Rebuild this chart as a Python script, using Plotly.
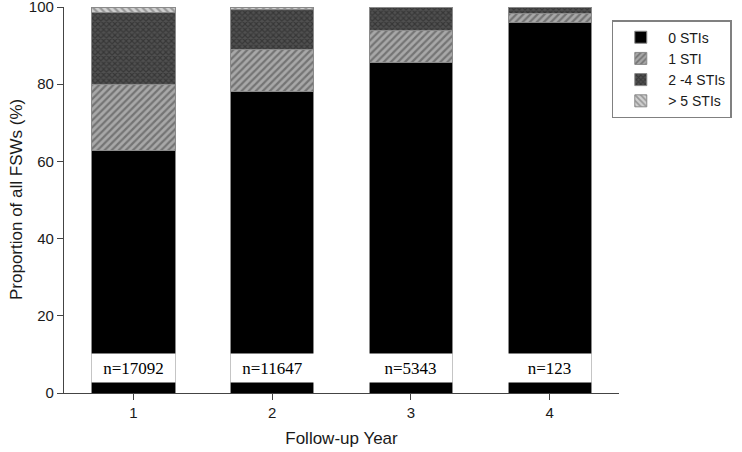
import plotly.graph_objects as go

years = [1, 2, 3, 4]
year_labels = ["1", "2", "3", "4"]
zero_sti = [62.8, 78.1, 85.5, 96.0]
one_sti = [17.0, 11.0, 8.5, 2.4]
two_four_sti = [18.7, 10.2, 6.0, 1.6]
five_plus_sti = [1.5, 0.7, 0.0, 0.0]
n_labels = ["n=17092", "n=11647", "n=5343", "n=123"]
label_y = [6.6, 6.6, 6.6, 6.6]

outline = dict(color="#8a8a8a", width=1)

fig = go.Figure()
fig.add_trace(go.Bar(x=years, y=zero_sti, name="0 STIs", width=0.6,
                     marker=dict(color="black", line=outline)))
fig.add_trace(go.Bar(x=years, y=one_sti, name="1 STI", width=0.6,
                     marker=dict(color="#a8a8a8", line=outline,
                                 pattern=dict(shape="/", fgcolor="#404040", bgcolor="#a8a8a8",
                                              size=5, solidity=0.45))))
fig.add_trace(go.Bar(x=years, y=two_four_sti, name="2 -4 STIs", width=0.6,
                     marker=dict(color="#505050", line=outline,
                                 pattern=dict(shape="x", fgcolor="#1e1e1e", bgcolor="#505050",
                                              size=4, solidity=0.5))))
fig.add_trace(go.Bar(x=years, y=five_plus_sti, name="> 5 STIs", width=0.6,
                     marker=dict(color="#d0d0d0", line=outline,
                                 pattern=dict(shape="\\", fgcolor="#606060", bgcolor="#d0d0d0",
                                              size=5, solidity=0.45))))

for xv, yv, t in zip(years, label_y, n_labels):
    fig.add_annotation(x=xv, y=yv, text=t, showarrow=False, xref="x", yref="y",
                       font=dict(family="Liberation Serif", size=17, color="black"),
                       bgcolor="white", width=83, height=28, borderpad=0)

# y-axis title placed as a rotated annotation in the left margin
fig.add_annotation(text="Proportion of all FSWs (%)", xref="paper", yref="paper",
                   x=-48 / 555, y=0.5, xanchor="center", yanchor="middle",
                   textangle=-90, showarrow=False,
                   font=dict(family="Liberation Sans", size=17, color="#1a1a1a"))

fig.update_layout(
    barmode="stack",
    width=742, height=452,
    margin=dict(l=64, r=123, t=7, b=59, autoexpand=False),
    paper_bgcolor="white", plot_bgcolor="white",
    font=dict(family="Liberation Sans", size=15, color="#1a1a1a"),
    legend=dict(x=0.987, y=0.966, xanchor="left", yanchor="top",
                traceorder="normal", bordercolor="#808080", borderwidth=1.5,
                font=dict(size=14, color="#1a1a1a"), tracegroupgap=0,
                itemwidth=45, bgcolor="white"),
    xaxis=dict(range=[0.5, 4.5], tickvals=years, ticktext=year_labels,
               showline=True, linecolor="#444444", linewidth=1.2,
               ticks="outside", ticklen=6, tickcolor="#444444",
               showgrid=False, zeroline=False, automargin=False,
               ticklabeloverflow="allow",
               title=dict(text="Follow-up Year", font=dict(size=17), standoff=12)),
    yaxis=dict(range=[0, 100], tickvals=[0, 20, 40, 60, 80, 100],
               showline=True, linecolor="#444444", linewidth=1.2,
               ticks="outside", ticklen=6, tickcolor="#444444",
               showgrid=False, zeroline=False, automargin=False,
               ticklabeloverflow="allow"),
)

fig.write_html("out.html", config={"displayModeBar": False},
               post_script="document.body.style.margin='0';document.body.style.overflow='hidden';")
